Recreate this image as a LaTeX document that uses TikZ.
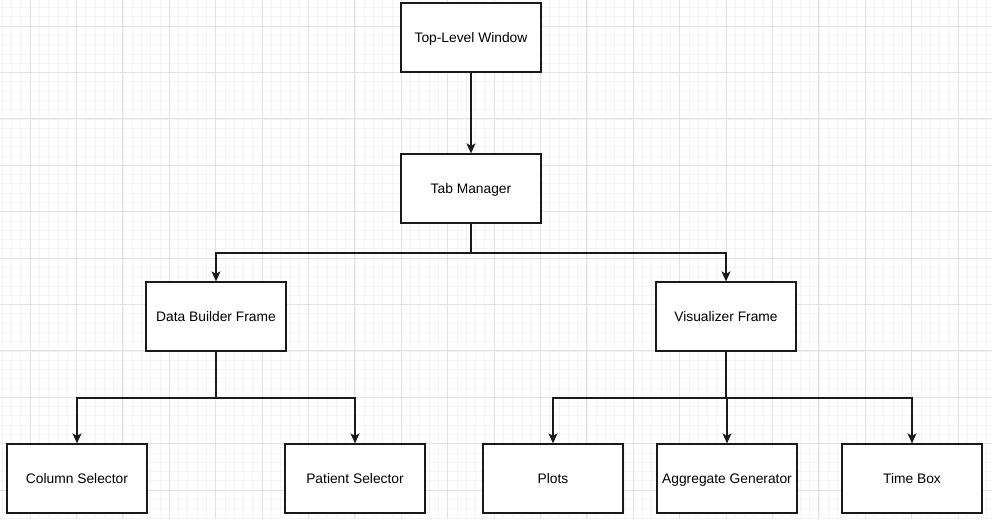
\documentclass[tikz,border=0pt]{standalone}
\usepackage{fontspec}
\setmainfont{Liberation Sans}
\usetikzlibrary{arrows.meta}
\definecolor{minorgrid}{HTML}{F4F4F4}
\definecolor{majorgrid}{HTML}{E2E2E2}
\definecolor{edgecol}{HTML}{1A1A1A}
\tikzset{
  box/.style={draw=edgecol, line width=1.3pt, fill=white, minimum width=140pt, minimum height=69pt, inner sep=0pt, font=\fontsize{13.8pt}{16pt}\selectfont, text=black, text height=10pt, text depth=1pt},
  conn/.style={draw=edgecol, line width=1.3pt, -{Stealth[length=10pt,width=9pt,inset=2.5pt]}},
}
\begin{document}
\begin{tikzpicture}[x=1pt,y=-1pt]
\useasboundingbox (0,0) rectangle (992,519);
\fill[white] (0,0) rectangle (992,519);
% minor grid
\foreach \i in {0,...,106} {\draw[minorgrid, line width=0.6pt] ({2.16+9.28*\i},0) -- ({2.16+9.28*\i},519);}
\foreach \i in {0,...,55} {\draw[minorgrid, line width=0.6pt] (0,{7.44+9.28*\i}) -- (992,{7.44+9.28*\i});}
% major grid
\foreach \i in {0,...,21} {\draw[majorgrid, line width=0.7pt] ({30+46.4*\i},0) -- ({30+46.4*\i},519);}
\foreach \i in {0,...,11} {\draw[majorgrid, line width=0.7pt] (0,{26+46.4*\i}) -- (992,{26+46.4*\i});}

\node[box] (top) at (471,37.5) {Top-Level Window};
\node[box] (tab) at (471,188.5) {Tab Manager};
\node[box] (dbf) at (216,316.5) {Data Builder Frame};
\node[box] (vf) at (726,316.5) {Visualizer Frame};
\node[box] (col) at (77,478.5) {Column Selector};
\node[box] (pat) at (355,478.5) {Patient Selector};
\node[box] (plots) at (553,478.5) {Plots};
\node[box] (agg) at (727,478.5) {Aggregate Generator};
\node[box] (time) at (912,478.5) {Time Box};

\coordinate (j1) at (471,253);
\coordinate (j2) at (216,398);
\coordinate (j3) at (726,398);

\draw[conn] (top) -- (tab);
\draw[conn] (tab.south) -- (j1) -| (dbf.north);
\draw[conn] (tab.south) -- (j1) -| (vf.north);
\draw[conn] (dbf.south) -- (j2) -| (col.north);
\draw[conn] (dbf.south) -- (j2) -| (pat.north);
\draw[conn] (vf.south) -- (j3) -| (plots.north);
\draw[conn] (vf.south) -- (j3) -| (agg.north);
\draw[conn] (vf.south) -- (j3) -| (time.north);
\end{tikzpicture}
\end{document}
